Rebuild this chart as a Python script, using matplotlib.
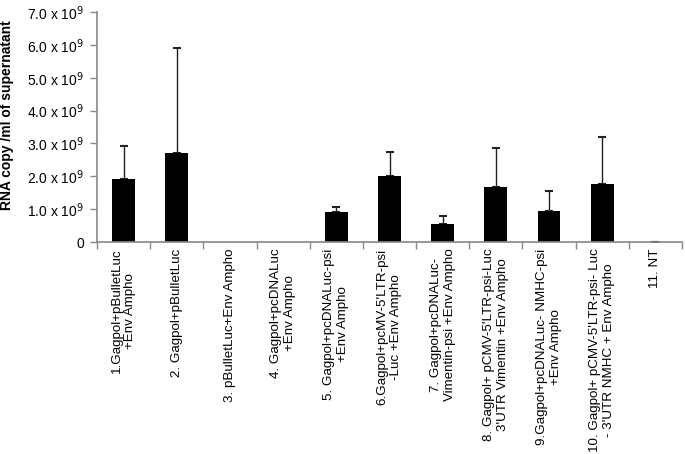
import matplotlib
matplotlib.use("Agg")
import matplotlib.pyplot as plt
import numpy as np

plt.rcParams['font.family'] = ['Liberation Sans', 'DejaVu Sans']

categories = [
    "1.Gagpol+pBulletLuc\n+Env Ampho",
    "2. Gagpol+pBulletLuc",
    "3. pBulletLuc+Env Ampho",
    "4. Gagpol+pcDNALuc\n+Env Ampho",
    "5. Gagpol+pcDNALuc-psi\n+Env Ampho",
    "6.Gagpol+pcMV-5'LTR-psi\n-Luc +Env Ampho",
    "7. Gagpol+pcDNALuc-\nVimentin-psi +Env Ampho",
    "8. Gagpol+ pCMV-5'LTR-psi-Luc\n3'UTR Vimentin +Env Ampho",
    "9.Gagpol+pcDNALuc- NMHC-psi\n+Env Ampho",
    "10. Gagpol+ pCMV-5'LTR-psi- Luc\n- 3'UTR NMHC + Env Ampho",
    "11. NT",
]
values = [1.91, 2.70, 0.0, 0.0, 0.90, 2.01, 0.55, 1.66, 0.93, 1.77, 0.01]
errors = [1.01, 3.21, 0.0, 0.0, 0.16, 0.74, 0.25, 1.20, 0.61, 1.43, 0.0]
ytick_vals = [0, 1, 2, 3, 4, 5, 6, 7]
ytick_labels = ["0"] + [f"{v:.1f} x 10$^{{9}}$" for v in ytick_vals[1:]]

fig = plt.figure(figsize=(6.85, 4.54), dpi=100)
ax = fig.add_axes([97/685, 1-242/454, 585/685, 230/454])

x = np.arange(len(categories))
vals = np.array(values)
errs = np.array(errors)
ax.bar(x, vals, width=0.43, color='black', zorder=2)
m = vals > 0
ax.errorbar(x[m], vals[m], yerr=[np.zeros(m.sum()), errs[m]], fmt='none',
            ecolor='#222222', elinewidth=1.0, capsize=3, capthick=1.5, zorder=1)

ax.set_xlim(-0.5, len(categories) - 0.5)
ax.set_ylim(0, 7)
ax.set_yticks(ytick_vals)
ax.set_yticklabels(ytick_labels, fontsize=10)
ax.set_ylabel("RNA copy /ml of supernatant", fontsize=10, fontweight='bold', labelpad=6)
ax.yaxis.set_label_coords(-0.142, 0.55)

ax.set_xticks(np.arange(-0.5, len(categories), 1.0))
ax.set_xticklabels([])
ax.tick_params(axis='x', direction='out', length=5, color='#888888', width=1)
ax.tick_params(axis='y', direction='out', length=5, color='#888888', width=1, pad=4)

for i, lab in enumerate(categories):
    ax.text(i, -0.2, lab, rotation=90, ha='center', va='top',
            multialignment='center', fontsize=9.6,
            transform=ax.transData, clip_on=False)

for s in ['top', 'right']:
    ax.spines[s].set_visible(False)
for s in ['left', 'bottom']:
    ax.spines[s].set_color('#888888')
    ax.spines[s].set_linewidth(1.2)

fig.savefig("out.png", dpi=100)
